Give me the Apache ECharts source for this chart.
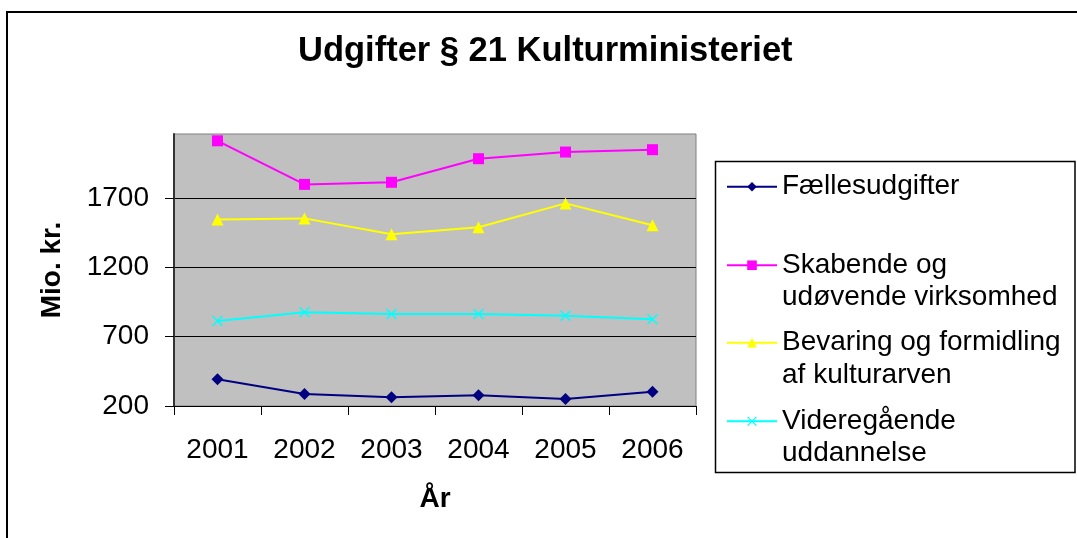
<!DOCTYPE html>
<html>
<head>
<meta charset="utf-8">
<script src="https://cdn.jsdelivr.net/npm/echarts@6/dist/echarts.min.js"></script>
<style>
html,body{margin:0;padding:0;background:#fff;}
#main{width:1077px;height:538px;}
</style>
</head>
<body>
<div id="main"></div>
<script>
// data
var years = ['2001', '2002', '2003', '2004', '2005', '2006'];
var faelles = [392, 286, 263, 277, 250, 303];
var skabende = [2111, 1797, 1812, 1982, 2030, 2047];
var bevaring = [1543, 1552, 1437, 1488, 1660, 1502];
var videre = [812, 875, 863, 863, 851, 825];
var yTicks = {min: 200, max: 2160, step: 500};

var names = [
    'Fællesudgifter',
    'Skabende og\nudøvende virksomhed',
    'Bevaring og formidling\naf kulturarven',
    'Videregående\nuddannelse'
];

var FONT = 'Arial, "Liberation Sans", sans-serif';
// x-shaped marker as a filled polygon
var xMark = 'path://M0,0.9L0.9,0L5,4.1L9.1,0L10,0.9L5.9,5L10,9.1L9.1,10L5,5.9L0.9,10L0,9.1L4.1,5Z';

var dom = document.getElementById('main');
var myChart = echarts.init(dom);

function mkSeries(name, data, color, symbol, size) {
    return {
        name: name,
        type: 'line',
        data: data,
        symbol: symbol,
        symbolSize: size,
        showAllSymbol: true,
        lineStyle: {color: color, width: 2},
        itemStyle: {color: color},
        emphasis: {disabled: true},
        animation: false
    };
}

// one legend per entry; two-line names get a blank first line so the
// marker sits beside the first text line (like Excel does)
function mkLegend(name, top, twoLines) {
    return {
        data: [name],
        left: 726,
        top: top,
        orient: 'vertical',
        padding: 0,
        itemWidth: 50,
        itemHeight: 12,
        itemGap: 0,
        itemStyle: {borderWidth: 0},
        formatter: twoLines ? function (n) { return ' \n' + n; } : '{name}',
        textStyle: {
            fontFamily: FONT,
            fontSize: 28,
            color: '#000',
            lineHeight: 32.5
        },
        selectedMode: false
    };
}

var option = {
    backgroundColor: '#fff',
    animation: false,
    title: {
        text: 'Udgifter § 21 Kulturministeriet',
        left: 298,
        top: 34,
        padding: 0,
        textStyle: {fontFamily: FONT, fontSize: 34.5, fontWeight: 'bold', color: '#000'}
    },
    legend: [
        mkLegend(names[0], 170.5, false),
        mkLegend(names[1], 216.5, true),
        mkLegend(names[2], 294, true),
        mkLegend(names[3], 372.5, true)
    ],
    grid: {
        left: 174,
        top: 134,
        width: 522,
        height: 272,
        show: true,
        backgroundColor: '#C0C0C0',
        borderColor: '#808080',
        borderWidth: 1,
        containLabel: false
    },
    xAxis: {
        type: 'category',
        data: years,
        boundaryGap: true,
        name: 'År',
        nameLocation: 'middle',
        nameGap: 79,
        nameTextStyle: {fontFamily: FONT, fontSize: 28, fontWeight: 'bold', color: '#000'},
        axisLine: {lineStyle: {color: '#000', width: 1}},
        axisTick: {show: true, length: 9, lineStyle: {color: '#000'}},
        axisLabel: {fontFamily: FONT, fontSize: 28, color: '#000', margin: 30},
        splitLine: {show: false}
    },
    yAxis: {
        type: 'value',
        min: yTicks.min,
        max: yTicks.max,
        interval: yTicks.step,
        name: 'Mio. kr.',
        nameLocation: 'middle',
        nameGap: 108,
        nameTextStyle: {fontFamily: FONT, fontSize: 28, fontWeight: 'bold', color: '#000'},
        axisLine: {show: true, lineStyle: {color: '#333', width: 2}},
        axisTick: {show: true, length: 9, lineStyle: {color: '#000'}},
        axisLabel: {
            fontFamily: FONT, fontSize: 28, color: '#000', margin: 25, showMaxLabel: false,
            formatter: function (v) { return String(v); }
        },
        splitLine: {show: true, showMaxLine: false, lineStyle: {color: '#000', width: 1}}
    },
    graphic: [
        // outer chart frame (left and top edges only are visible)
        {type: 'polyline', shape: {points: [[7, 538], [7, 12], [1077, 12]]},
         style: {stroke: '#000', lineWidth: 2, fill: null}, silent: true},
        // legend frame
        {type: 'rect', shape: {x: 715.5, y: 161.5, width: 359.5, height: 311},
         style: {stroke: '#000', lineWidth: 1.5, fill: null}, silent: true, z: 0}
    ],
    tooltip: {show: false},
    series: [
        mkSeries(names[0], faelles, '#000080', 'diamond', 12),
        mkSeries(names[1], skabende, '#FF00FF', 'rect', 11),
        mkSeries(names[2], bevaring, '#FFFF00', 'triangle', 12),
        mkSeries(names[3], videre, '#00FFFF', xMark, 11)
    ]
};

if (option && typeof option === 'object') {
    myChart.setOption(option, true);
}
</script>
</body>
</html>
